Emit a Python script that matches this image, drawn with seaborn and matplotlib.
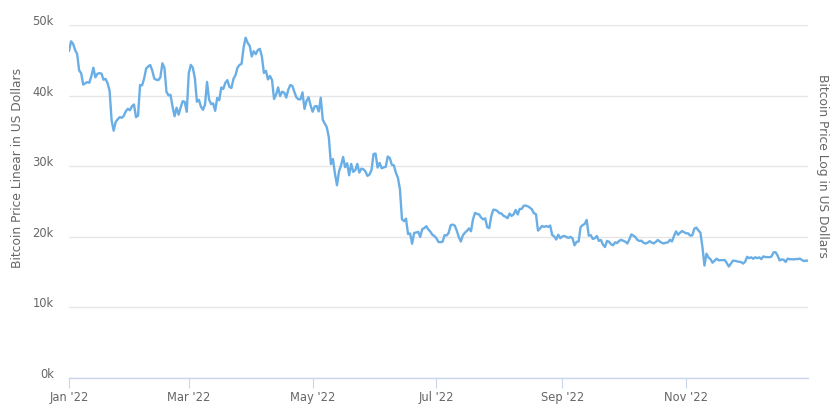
import numpy as np
import pandas as pd
import matplotlib
matplotlib.use("Agg")
import matplotlib.pyplot as plt
import matplotlib.dates as mdates
import matplotlib.transforms as mtransforms
import seaborn as sns

# Daily bitcoin price (USD), 2022
jan = [46306, 47686, 47345, 46458, 45897, 43569, 43160, 41558, 41734, 41912, 41822, 42736,
       43949, 42592, 43099, 43177, 43113, 42250, 42375, 41744, 40680, 36457, 35030, 36276,
       36654, 36954, 36852, 37138, 37784, 38138, 37917]
feb = [38483, 38743, 36952, 37154, 41500, 41441, 42412, 43840, 44118, 44338, 43565, 42407,
       42244, 42197, 42586, 44575, 43961, 40538, 40030, 40122, 38431, 37075, 38286, 37296,
       38332, 39214, 39105, 37709]
mar = [43193, 44354, 43924, 42451, 39137, 39400, 38420, 37988, 38730, 41941, 39439, 38794,
       38904, 37849, 39666, 39338, 41143, 40951, 41801, 42190, 41247, 41077, 42358, 42892,
       43960, 44348, 44500, 46820, 48200, 47465, 47062]
apr = [45538, 46281, 45868, 46453, 46622, 45555, 43206, 43503, 42287, 42782, 42207, 39521,
       40127, 41166, 39935, 40553, 40424, 39716, 40826, 41502, 41374, 40527, 39740, 39486,
       39469, 40458, 38117, 39241, 39773, 38609]
may = [37714, 38469, 38529, 37750, 39698, 36575, 36040, 35501, 34059, 30296, 31023, 28936,
       27300, 29283, 30102, 31305, 29862, 30425, 28720, 30315, 29200, 29432, 30323, 29098,
       29655, 29562, 29267, 28627, 28814, 29445, 31726]
jun = [31792, 29799, 30467, 29704, 29833, 29906, 31370, 31155, 30215, 30112, 29083, 28360,
       26763, 22487, 22206, 22572, 20381, 20471, 19017, 20553, 20599, 20710, 19987, 21085,
       21231, 21502, 21027, 20735, 20281, 20105]
jul = [19785, 19269, 19243, 19297, 20231, 20190, 20548, 21637, 21731, 21592, 20860, 19970,
       19323, 20212, 20569, 20836, 21190, 20779, 22485, 23389, 23231, 23164, 22714, 22465,
       22609, 21361, 21239, 22930, 23843, 23804, 23656]
aug = [23336, 23314, 22978, 22846, 22630, 23289, 22961, 23175, 23810, 23164, 23948, 23957,
       24402, 24424, 24319, 24136, 23883, 23336, 23213, 20877, 21166, 21534, 21398, 21528,
       21395, 21600, 20260, 20041, 19616, 20297, 19797]
sep = [20050, 20127, 19969, 19833, 20000, 19796, 18791, 19290, 19329, 21382, 21652, 21826,
       22395, 20174, 20227, 19701, 19803, 20113, 19417, 19545, 18891, 18548, 19413, 19297,
       18937, 18803, 19222, 19110, 19427, 19573]
oct_ = [19432, 19312, 19045, 19624, 20337, 20160, 19955, 19546, 19417, 19447, 19141, 19052,
        19157, 19382, 19185, 19068, 19268, 19550, 19334, 19139, 19053, 19172, 19208, 19567,
        19345, 20095, 20771, 20285, 20595, 20818, 20635]
nov = [20495, 20485, 20159, 20209, 21148, 21300, 20905, 20591, 18547, 15922, 17601, 17070,
       16812, 16330, 16619, 16900, 16662, 16689, 16697, 16712, 16291, 15787, 16190, 16611,
       16604, 16522, 16458, 16428, 16213, 16442]
dec = [17163, 16977, 17092, 16885, 17105, 16967, 17089, 16836, 17224, 17128, 17128, 17104,
       17206, 17782, 17815, 17364, 16647, 16795, 16757, 16439, 16907, 16818, 16830, 16796,
       16847, 16842, 16919, 16717, 16553, 16642, 16603]

prices = jan + feb + mar + apr + may + jun + jul + aug + sep + oct_ + nov + dec
dates = pd.date_range("2022-01-01", periods=len(prices), freq="D")
df = pd.DataFrame({"Date": dates, "Price": prices})

y_ticks = [0, 10000, 20000, 30000, 40000, 50000]
y_labels = ["0k", "10k", "20k", "30k", "40k", "50k"]
x_ticks = pd.to_datetime(["2022-01-01", "2022-03-01", "2022-05-01",
                          "2022-07-01", "2022-09-01", "2022-11-01"])

sns.set_style("white")
plt.rcParams["font.family"] = ["DejaVu Sans"]

W, H = 835, 406
fig = plt.figure(figsize=(W / 100, H / 100), dpi=100)
ax = fig.add_axes([69 / W, 1 - 379 / H, 739 / W, 353 / H])

sns.lineplot(data=df, x="Date", y="Price", ax=ax, color="#6aaee6", linewidth=1.7)

ax.set_xlim(dates[0], dates[-1])
ax.set_ylim(0, 50000)

ax.set_yticks(y_ticks)
ax.set_yticklabels(y_labels)
ax.set_xticks(x_ticks)
ax.xaxis.set_major_formatter(mdates.DateFormatter("%b '%y"))

ax.grid(axis="y", color="#e6e6e6", linewidth=1)
ax.grid(axis="x", visible=False)
for s in ["top", "right", "left"]:
    ax.spines[s].set_visible(False)
ax.spines["bottom"].set_color("#ccd6eb")
ax.spines["bottom"].set_linewidth(1)

ax.tick_params(axis="y", left=False, length=0, pad=11, labelsize=8.3, labelcolor="#666666")
ax.tick_params(axis="x", bottom=True, direction="out", length=7.2, width=0.8,
               color="#ccd6eb", pad=1.5, labelsize=8.3, labelcolor="#666666")

# y tick labels sit a little above their gridlines
shift = mtransforms.ScaledTranslation(0, 6 / 100, fig.dpi_scale_trans)
for lbl in ax.get_yticklabels():
    lbl.set_transform(lbl.get_transform() + shift)

ax.set_xlabel("")
ax.set_ylabel("Bitcoin Price Linear in US Dollars", fontsize=8.8, color="#666666")
ax.yaxis.set_label_coords((24 - 69) / 739, (379 - 168) / 353)

fig.text(822 / W, 1 - 166 / H, "Bitcoin Price Log in US Dollars", rotation=270,
         ha="center", va="center", fontsize=8.8, color="#666666")

fig.savefig("out.png", dpi=100)
